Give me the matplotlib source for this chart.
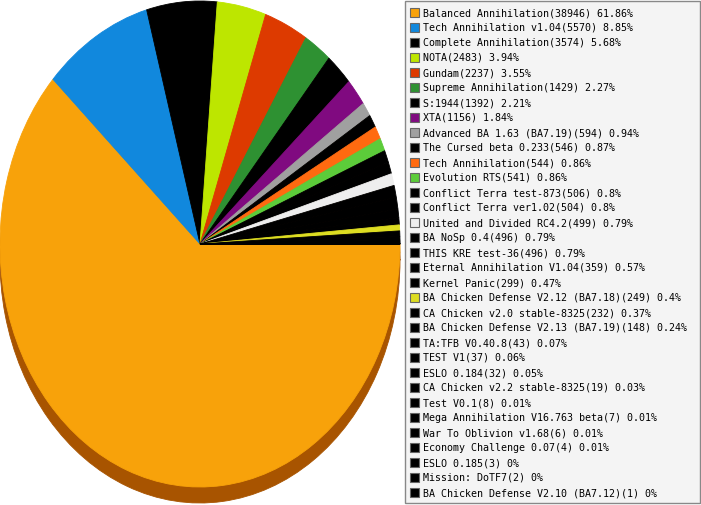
import matplotlib.pyplot as plt
from matplotlib.patches import Patch, Rectangle

names = ["Balanced Annihilation", "Tech Annihilation v1.04", "Complete Annihilation", "NOTA",
         "Gundam", "Supreme Annihilation", "S:1944", "XTA", "Advanced BA 1.63 (BA7.19)",
         "The Cursed beta 0.233", "Tech Annihilation", "Evolution RTS", "Conflict Terra test-873",
         "Conflict Terra ver1.02", "United and Divided RC4.2", "BA NoSp 0.4", "THIS KRE test-36",
         "Eternal Annihilation V1.04", "Kernel Panic", "BA Chicken Defense V2.12 (BA7.18)",
         "CA Chicken v2.0 stable-8325", "BA Chicken Defense V2.13 (BA7.19)", "TA:TFB V0.40.8",
         "TEST V1", "ESLO 0.184", "CA Chicken v2.2 stable-8325", "Test V0.1",
         "Mega Annihilation V16.763 beta", "War To Oblivion v1.68", "Economy Challenge 0.07",
         "ESLO 0.185", "Mission: DoTF7", "BA Chicken Defense V2.10 (BA7.12)"]
games = [38946, 5570, 3574, 2483, 2237, 1429, 1392, 1156, 594, 546, 544, 541, 506, 504, 499,
         496, 496, 359, 299, 249, 232, 148, 43, 37, 32, 19, 8, 7, 6, 4, 3, 2, 1]
colors = ["#f8a20a", "#1188dd", "#000000", "#bde600", "#dd3a00", "#2e9132", "#000000",
          "#800a80", "#a0a0a0", "#000000", "#ff6a10", "#5ccc3a", "#000000", "#000000",
          "#eeeeee", "#000000", "#000000", "#000000", "#000000", "#dddd22"] + ["#000000"] * 13
shadow = "#a85400"

total = sum(games)
labels = [f"{n}({g}) {round(100 * g / total, 2):g}%" for n, g in zip(names, games)]

W, H = 701, 505
fig = plt.figure(figsize=(W / 100, H / 100), dpi=100)
ax = fig.add_axes([0, 0, 401 / W, 1])
ry = 243
# side of the 3d pie
side, _ = ax.pie(games, colors=[shadow] * len(games), startangle=0, counterclock=False,
                 center=(0, -16 / ry))
top, _ = ax.pie(games, colors=colors, startangle=0, counterclock=False)
for w in side + top:
    w.set_edgecolor(w.get_facecolor())
    w.set_linewidth(0.6)
ax.set_aspect("auto")
ax.set_xlim(-1, 1.005)
ax.set_ylim(-261 / ry, 244 / ry)
ax.axis("off")

fig.patches.append(Rectangle((405 / W, 2 / H), 295 / W, 502 / H, transform=fig.transFigure,
                             facecolor="#f4f4f4", edgecolor="#888888", lw=1))
handles = [Patch(facecolor=c, edgecolor="#666666", lw=0.8) for c in colors]
fig.legend(handles, labels, loc="upper left", bbox_to_anchor=(407 / W, 1 - 5 / H),
           borderaxespad=0, frameon=False, prop=dict(family="DejaVu Sans Mono", size=7.2),
           handlelength=0.9, handleheight=0.9, handletextpad=0.4, labelspacing=0.5,
           borderpad=0.3)

fig.savefig("out.png", dpi=100)
